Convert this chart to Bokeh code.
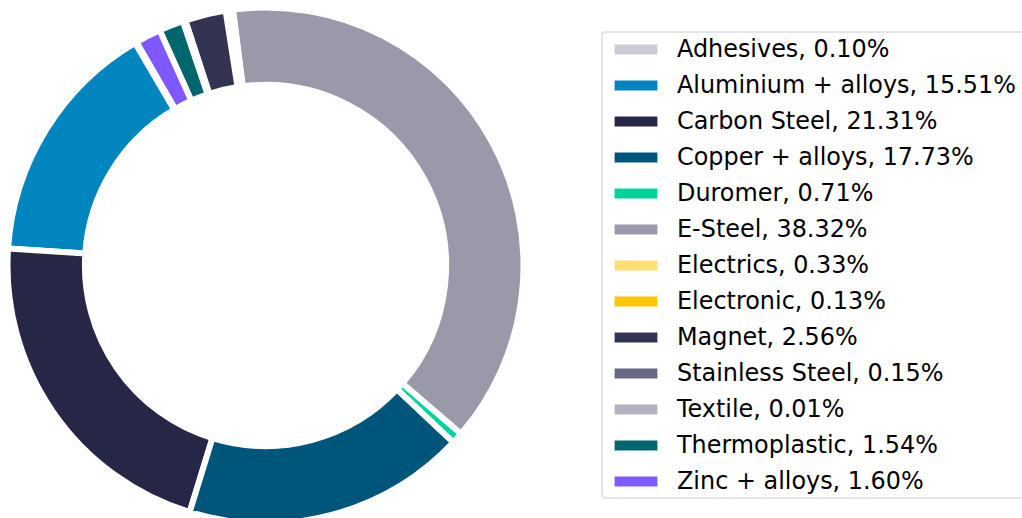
import math
from bokeh.plotting import figure
from bokeh.models import Legend, LegendItem, ColumnDataSource, Range1d
from bokeh.embed import file_html
from bokeh.resources import INLINE

materials = ["Adhesives", "Aluminium + alloys", "Carbon Steel", "Copper + alloys",
             "Duromer", "E-Steel", "Electrics", "Electronic", "Magnet",
             "Stainless Steel", "Textile", "Thermoplastic", "Zinc + alloys"]
shares = [0.10, 15.51, 21.31, 17.73, 0.71, 38.32, 0.33, 0.13, 2.56, 0.15, 0.01, 1.54, 1.60]
colors = ["#cbcbd6", "#0085bf", "#262646", "#00557a", "#00d49e", "#9a99a9",
          "#ffde75", "#f8c700", "#333452", "#676882", "#b3b2c0", "#00666e", "#8058ff"]

start_deg = 120.0
total = sum(shares)
starts, ends = [], []
acc = start_deg
for s in shares:
    a0 = acc
    acc += 360.0 * s / total
    starts.append(math.radians(a0))
    ends.append(math.radians(acc))

source = ColumnDataSource(dict(material=materials, share=shares, color=colors,
                               start=starts, end=ends))

W, H = 1022, 518
CX, CY = 265, 265
p = figure(width=W, height=H, output_backend="svg", toolbar_location=None,
           x_range=Range1d(-CX, W - CX), y_range=Range1d(CY - H, CY),
           min_border=0, outline_line_color=None)
p.axis.visible = False
p.grid.visible = False

R = 258.0
r = p.annular_wedge(x=0, y=0, inner_radius=0.7 * R, outer_radius=R,
                    start_angle="start", end_angle="end", source=source,
                    fill_color="color", line_color="white", line_width=6)

items = [LegendItem(label=f"{m}, {s:.2f}%", renderers=[r], index=i)
         for i, (m, s) in enumerate(zip(materials, shares))]
legend = Legend(items=items, location=(601, 19), margin=0, padding=2,
                spacing=8, glyph_width=61, glyph_height=20, label_standoff=11,
                label_width=352,
                label_text_font="DejaVu Sans", label_text_font_size="23.9px",
                label_text_color="black",
                border_line_color="#cccccc", border_line_width=2,
                background_fill_color="white", background_fill_alpha=0.8)
if "border_radius" in Legend.properties():
    legend.border_radius = 4
p.add_layout(legend)

open("out.html", "w").write(file_html(p, INLINE))
